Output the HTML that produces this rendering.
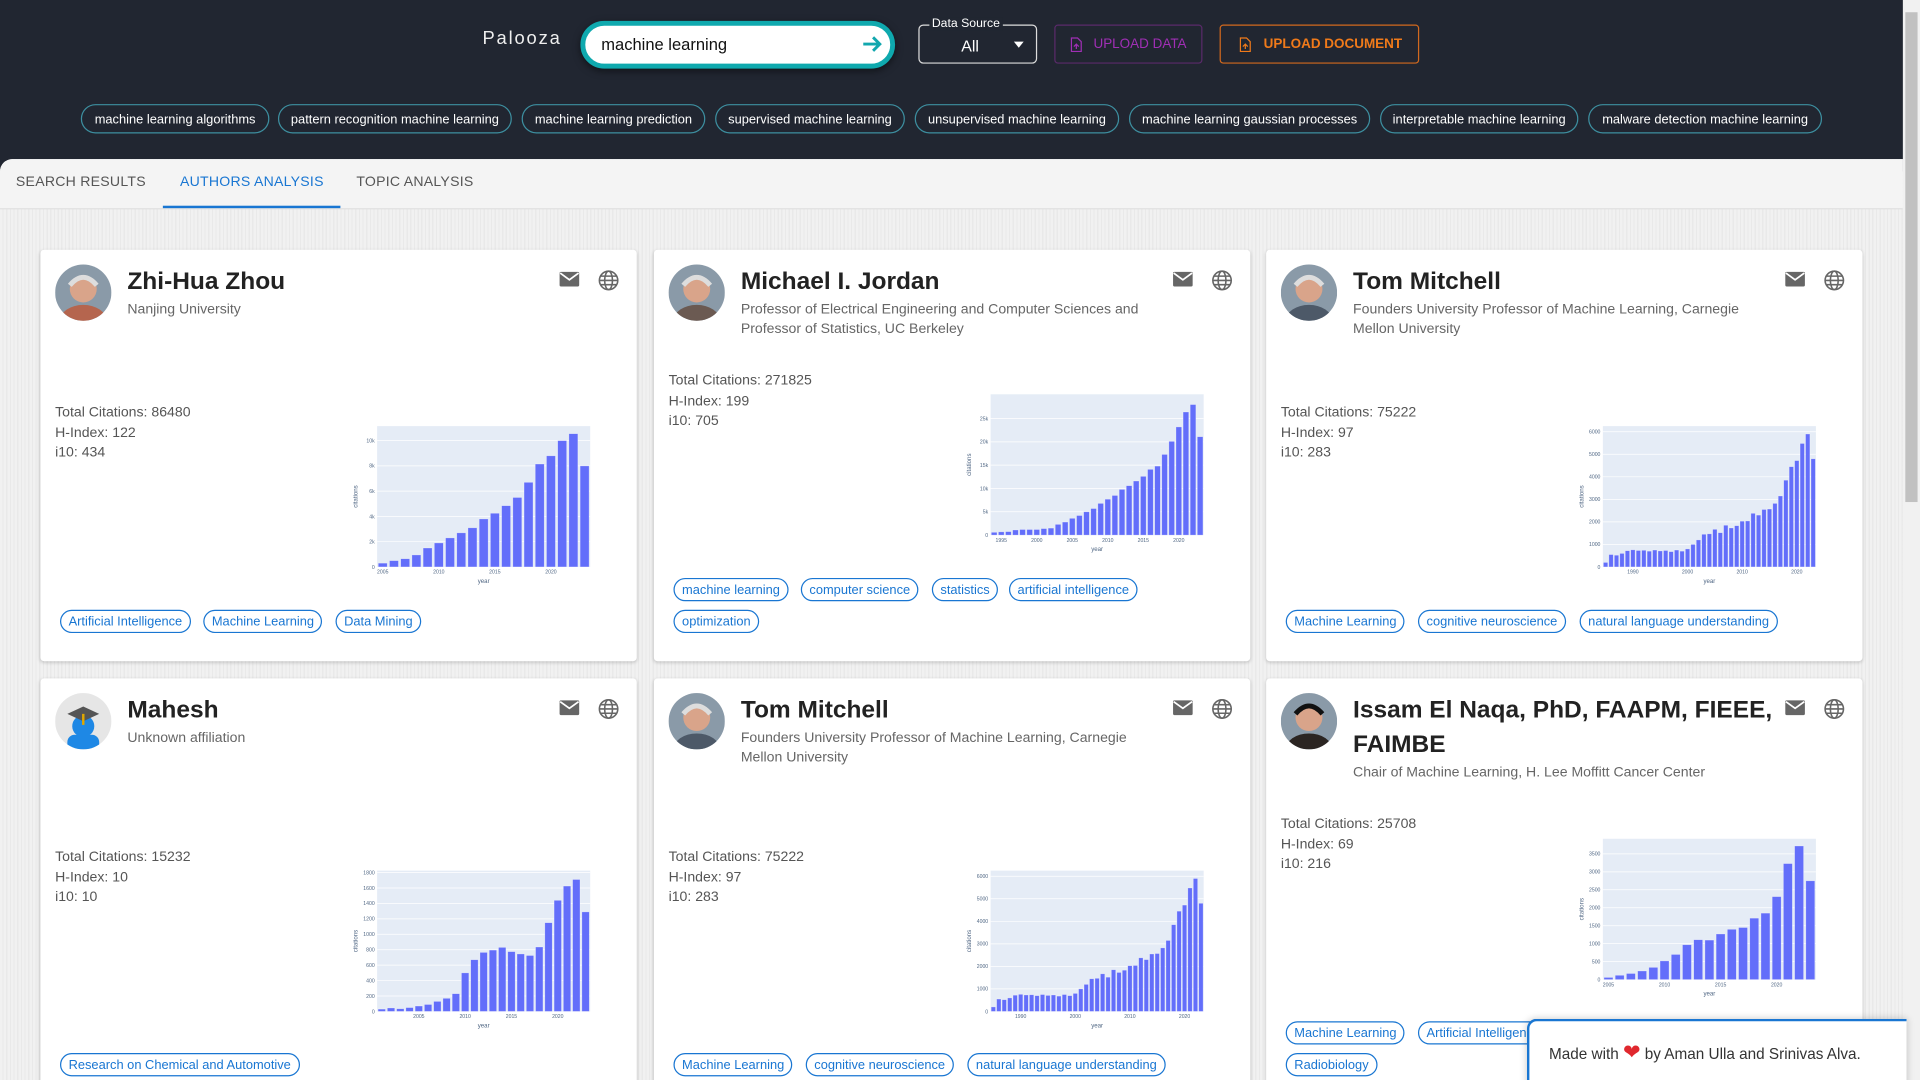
<!DOCTYPE html>
<html><head><meta charset="utf-8">
<style>
html,body{margin:0;padding:0;width:1920px;height:1080px;overflow:hidden;background:#f0f0f0;}
#root{position:absolute;left:0;top:0;width:1568px;height:882px;transform:scale(1.22449);transform-origin:0 0;font-family:"Liberation Sans",Arial,sans-serif;overflow:hidden;}
.abs{position:absolute;}
#header{left:0;top:0;width:1568px;height:140px;background:#212631;}
.chip{position:absolute;top:85px;height:24px;border:1px solid #3d8fa0;border-radius:13px;color:#fff;font-size:10.5px;line-height:24px;text-align:center;box-sizing:border-box;white-space:nowrap;}
#content{left:0;top:130px;width:1554px;height:752px;border-top-left-radius:10px;background:repeating-linear-gradient(90deg,#f1f1f1 0,#f1f1f1 2px,#e9e9e9 2px,#e9e9e9 3px);}
#tabs{left:0;top:130px;width:1554px;height:40px;background:#f4f4f4;border-bottom:1px solid #ddd;border-top-left-radius:10px;}
.tab{position:absolute;top:143px;font-size:11.5px;color:#555;letter-spacing:.2px;}
.card{position:absolute;background:#fff;box-shadow:0 1px 3px rgba(0,0,0,.2);border-radius:3px;}
.avatar{position:absolute;left:12px;top:12px;width:46px;height:46px;border-radius:50%;overflow:hidden;}
.name{position:absolute;left:71px;font-size:20px;font-weight:bold;color:#222;}
.aff{position:absolute;left:71px;font-size:11.5px;color:#666;line-height:16px;}
.stats{position:absolute;left:12px;font-size:11.5px;color:#555;line-height:16.5px;}
.tag{position:absolute;height:19px;border:1px solid #1976d2;color:#1976d2;border-radius:10px;font-size:10.5px;line-height:18px;padding:0 6px;box-sizing:border-box;white-space:nowrap;}
.icon{position:absolute;top:17px;}
</style></head><body>
<div id="root">
<div id="header" class="abs"></div>
<div class="abs" style="left:394px;top:23px;color:#eee;font-size:15px;letter-spacing:1.5px;">Palooza</div>
<div class="abs" style="left:474px;top:17px;width:257px;height:39px;box-sizing:border-box;border:4px solid #0fa9ae;border-radius:20px;background:#fff;box-shadow:0 2px 6px rgba(0,0,0,.5);">
 <span style="position:absolute;left:13px;top:8px;font-size:13.5px;color:#111;">machine learning</span>
 <svg style="position:absolute;right:6px;top:6px" width="18" height="18" viewBox="0 0 18 18"><path d="M2 9H15M10 3.5L15.5 9 10 14.5" stroke="#12a7ae" stroke-width="2.4" fill="none"/></svg>
</div>
<div class="abs" style="left:750px;top:20px;width:97px;height:32px;border:1px solid #ddd;border-radius:4px;box-sizing:border-box;">
 <span style="position:absolute;left:8px;top:-7px;background:#212631;color:#fff;font-size:10px;padding:0 2px;">Data Source</span>
 <span style="position:absolute;left:34px;top:9px;color:#fff;font-size:13px;">All</span>
 <span style="position:absolute;left:77px;top:13px;width:0;height:0;border-left:4px solid transparent;border-right:4px solid transparent;border-top:5px solid #fff;"></span>
</div>
<div class="abs" style="left:861px;top:20px;width:121px;height:32px;border:1px solid #5a2a6a;border-radius:3px;box-sizing:border-box;color:#a02fb5;font-size:11px;line-height:30px;">
 <svg style="position:absolute;left:12px;top:9px" width="10" height="13" viewBox="0 0 10 13"><path d="M1 1H6L9 4V12H1Z" stroke="#a02fb5" fill="none"/><path d="M5 10V6M3 8L5 6 7 8" stroke="#a02fb5" fill="none"/></svg>
 <span style="position:absolute;left:31px;">UPLOAD DATA</span></div>
<div class="abs" style="left:996px;top:20px;width:163px;height:32px;border:1px solid #d2691e;border-radius:3px;box-sizing:border-box;color:#f07a1a;font-size:11px;font-weight:bold;line-height:30px;">
 <svg style="position:absolute;left:15px;top:9px" width="10" height="13" viewBox="0 0 10 13"><path d="M1 1H6L9 4V12H1Z" stroke="#f07a1a" fill="none"/><path d="M5 10V6M3 8L5 6 7 8" stroke="#f07a1a" fill="none"/></svg>
 <span style="position:absolute;left:35px;">UPLOAD DOCUMENT</span></div>

<div class="chip" style="left:66px;width:154px">machine learning algorithms</div>
<div class="chip" style="left:227px;width:191px">pattern recognition machine learning</div>
<div class="chip" style="left:426px;width:150px">machine learning prediction</div>
<div class="chip" style="left:584px;width:155px">supervised machine learning</div>
<div class="chip" style="left:747px;width:167px">unsupervised machine learning</div>
<div class="chip" style="left:922px;width:197px">machine learning gaussian processes</div>
<div class="chip" style="left:1127px;width:162px">interpretable machine learning</div>
<div class="chip" style="left:1297px;width:191px">malware detection machine learning</div>

<div id="content" class="abs"></div>
<div id="tabs" class="abs"></div>
<div class="tab" style="left:13px">SEARCH RESULTS</div>
<div class="tab" style="left:147px;color:#1976d2">AUTHORS ANALYSIS</div>
<div class="abs" style="left:133px;top:168px;width:145px;height:2px;background:#1976d2"></div>
<div class="tab" style="left:291px">TOPIC ANALYSIS</div>

<div id="cards"></div>

<div class="abs" style="left:1554px;top:0;width:14px;height:882px;background:#f1f1f1;"><div style="position:absolute;left:2px;top:10px;width:10px;height:400px;background:#c1c1c1;"></div></div>

<div class="abs" style="left:1247px;top:832px;width:308px;height:60px;background:#fff;border-top:2px solid #1976d2;border-left:2px solid #1976d2;border-top-left-radius:8px;box-shadow:0 0 6px rgba(0,0,0,.2);font-size:12.5px;color:#333;">
 <span style="position:absolute;left:16px;top:16px;">Made with <span style="color:#e0282e;font-size:17px;">&#10084;</span> by Aman Ulla and Srinivas Alva.</span></div>
</div>

<script>
// ---- chart data ----
const zhouYears = [2005,2006,2007,2008,2009,2010,2011,2012,2013,2014,2015,2016,2017,2018,2019,2020,2021,2022,2023];
const zhouCitations = [300,500,650,950,1500,1900,2300,2700,3100,3800,4250,4850,5500,6700,8150,8800,10000,10550,8000];
const zhouTicks = [0,2000,4000,6000,8000,10000];
const zhouTickLabels = ["0","2k","4k","6k","8k","10k"];
const zhouYearTicks = [2005,2010,2015,2020];

const jordanYears = [1994,1995,1996,1997,1998,1999,2000,2001,2002,2003,2004,2005,2006,2007,2008,2009,2010,2011,2012,2013,2014,2015,2016,2017,2018,2019,2020,2021,2022,2023];
const jordanCitations = [600,700,750,1100,1200,1200,1200,1400,1500,2300,2800,3600,4200,5000,5700,6800,7700,8500,9800,10600,11600,12600,14100,14800,17300,20100,23200,26400,28000,21100];
const jordanTicks = [0,5000,10000,15000,20000,25000];
const jordanTickLabels = ["0","5k","10k","15k","20k","25k"];
const jordanYearTicks = [1995,2000,2005,2010,2015,2020];

const mitchellYears = [1985,1986,1987,1988,1989,1990,1991,1992,1993,1994,1995,1996,1997,1998,1999,2000,2001,2002,2003,2004,2005,2006,2007,2008,2009,2010,2011,2012,2013,2014,2015,2016,2017,2018,2019,2020,2021,2022,2023];
const mitchellCitations = [200,550,520,600,720,760,730,740,700,750,710,730,680,750,700,800,1000,1200,1450,1470,1670,1520,1850,1730,1830,2030,2040,2380,2300,2550,2570,2820,3150,3850,4450,4720,5480,5900,4800];
const mitchellTicks = [0,1000,2000,3000,4000,5000,6000];
const mitchellTickLabels = ["0","1000","2000","3000","4000","5000","6000"];
const mitchellYearTicks = [1990,2000,2010,2020];

const maheshYears = [2001,2002,2003,2004,2005,2006,2007,2008,2009,2010,2011,2012,2013,2014,2015,2016,2017,2018,2019,2020,2021,2022,2023];
const maheshCitations = [30,45,35,50,70,90,130,170,230,500,670,765,795,830,775,745,725,835,1150,1440,1625,1710,1290];
const maheshTicks = [0,200,400,600,800,1000,1200,1400,1600,1800];
const maheshTickLabels = ["0","200","400","600","800","1000","1200","1400","1600","1800"];
const maheshYearTicks = [2005,2010,2015,2020];

const naqaYears = [2005,2006,2007,2008,2009,2010,2011,2012,2013,2014,2015,2016,2017,2018,2019,2020,2021,2022,2023];
const naqaCitations = [60,120,170,240,340,520,700,970,1110,1100,1270,1400,1450,1710,1850,2310,3230,3720,2750];
const naqaTicks = [0,500,1000,1500,2000,2500,3000,3500];
const naqaTickLabels = ["0","500","1000","1500","2000","2500","3000","3500"];
const naqaYearTicks = [2005,2010,2015,2020];

const NS = "http://www.w3.org/2000/svg";
function svgEl(tag, attrs){const e=document.createElementNS(NS,tag);for(const k in attrs)e.setAttribute(k,attrs[k]);return e;}

function drawChart(svg, years, vals, ymax, ticks, tickLabels, yearTicks){
  const L=35,T=15,W=174,H=115;
  const x0=years[0]-0.5, x1=years[years.length-1]+0.5;
  const xs=v=>L+(v-x0)/(x1-x0)*W;
  const ys=v=>T+H-v/ymax*H;
  const bg=svgEl("rect",{x:L,y:T,width:W,height:H,fill:"#e5ecf6"});
  
  
  svg.appendChild(bg);
  ticks.forEach((t,i)=>{
    if(t>0){const g=svgEl("line",{x1:L,x2:L+W,y1:ys(t),y2:ys(t),stroke:"#fff","stroke-width":0.6});
      
      
      svg.appendChild(g);}
    const tx=svgEl("text",{x:L-2,y:ys(t)+1.5,"font-size":4.2,fill:"#506784","text-anchor":"end"});
    tx.textContent=tickLabels[i];
    
    
    svg.appendChild(tx);
  });
  const bw=W/years.length*0.8;
  years.forEach((y,i)=>{
    const r=svgEl("rect",{x:xs(y)-bw/2,y:ys(vals[i]),width:bw,height:ys(0)-ys(vals[i]),fill:"#636efa",stroke:"rgba(255,255,255,0.45)","stroke-width":0.5});
    
    
    svg.appendChild(r);
  });
  yearTicks.forEach(y=>{
    const tx=svgEl("text",{x:xs(y),y:T+H+5.5,"font-size":4.2,fill:"#506784","text-anchor":"middle"});
    tx.textContent=y;
    
    
    svg.appendChild(tx);
  });
  const xt=svgEl("text",{x:L+W/2,y:T+H+13,"font-size":5,fill:"#506784","text-anchor":"middle"});
  xt.textContent="year";
  
  
  svg.appendChild(xt);
  const yt=svgEl("text",{x:0,y:0,"font-size":5,fill:"#506784","text-anchor":"middle",transform:`translate(${L-16},${T+H/2}) rotate(-90)`});
  yt.textContent="citations";
  
  
  svg.appendChild(yt);
}

const avatarColors=["#b5654e","#6b5a52","#4d5968","#d8d8d8","#4d5968","#2b2522"];
function avatarSvg(i){
  if(i===3) return '<svg width="46" height="46"><rect width="46" height="46" fill="#e6e6e6"/><circle cx="23" cy="27" r="9" fill="#1e88e5"/><rect x="10" y="34" width="26" height="14" rx="6" fill="#1e88e5"/><path d="M10 17L23 11 36 17 23 23Z" fill="#555"/><rect x="22" y="17" width="2" height="9" fill="#e0a800"/></svg>';
  return `<svg width="46" height="46"><rect width="46" height="46" fill="#8a9aa8"/><circle cx="23" cy="20" r="11" fill="#d9a48a"/><ellipse cx="23" cy="46" rx="19" ry="13" fill="${avatarColors[i]}"/><path d="M12 17Q23 4 34 17" stroke="${i===5?'#111':'#ddd'}" stroke-width="4" fill="none"/></svg>`;
}

const cardsDiv=document.getElementById("cards");
function makeCard(o){
  const c=document.createElement("div");
  c.className="card";
  
  
  c.style.left=o.x+"px";c.style.top=o.y+"px";c.style.width="487px";c.style.height=o.ch+"px";
  let html=`<div class="avatar">${avatarSvg(o.i)}</div>`;
  html+=`<div class="name" style="top:${o.nameTop}px;line-height:28px;width:350px">${o.name}</div>`;
  html+=`<div class="aff" style="top:${o.affTop}px;width:340px">${o.aff}</div>`;
  html+=`<svg class="icon" style="left:423px" width="18" height="14" viewBox="0 0 18 14"><rect x="1" y="1" width="16" height="12" rx="1" fill="#666"/><path d="M1.5 2L9 7.5 16.5 2" stroke="#fff" stroke-width="1.4" fill="none"/></svg>`;
  html+=`<svg class="icon" style="left:455px;top:16px" width="18" height="18" viewBox="0 0 18 18"><g stroke="#666" stroke-width="1.3" fill="none"><circle cx="9" cy="9" r="7.5"/><ellipse cx="9" cy="9" rx="3.2" ry="7.5"/><path d="M1.5 9H16.5M2.5 5.5H15.5M2.5 12.5H15.5"/></g></svg>`;
  html+=`<div class="stats" style="top:${o.statsTop}px">Total Citations: ${o.tc}<br>H-Index: ${o.hidx}<br>i10: ${o.i10}</div>`;
  o.tags.forEach(t=>{html+=`<div class="tag" style="left:${t[1]}px;top:${t[2]}px">${t[0]}</div>`;});
  c.innerHTML=html;
  const svg=svgEl("svg",{width:250,height:150});
  svg.style.position="absolute";svg.style.left="240px";svg.style.top=(o.plotTop-15)+"px";
  
  
  c.appendChild(svg);
  drawChart(svg,o.years,o.vals,o.ymax,o.ticks,o.tl,o.yt);
  cardsDiv.appendChild(c);
}
const mitchellAff="Founders University Professor of Machine Learning, Carnegie Mellon University";
const mitchellTags=[["Machine Learning",16,294],["cognitive neuroscience",124,294],["natural language understanding",256,294]];
makeCard({i:0,x:33,y:204,ch:336,name:"Zhi-Hua Zhou",nameTop:12,affTop:41,aff:"Nanjing University",statsTop:125,tc:86480,hidx:122,i10:434,plotTop:144,
  years:zhouYears,vals:zhouCitations,ymax:11150,ticks:zhouTicks,tl:zhouTickLabels,yt:zhouYearTicks,
  tags:[["Artificial Intelligence",16,294],["Machine Learning",133,294],["Data Mining",241,294]]});
makeCard({i:1,x:534,y:204,ch:336,name:"Michael I. Jordan",nameTop:12,affTop:41,aff:"Professor of Electrical Engineering and Computer Sciences and Professor of Statistics, UC Berkeley",statsTop:99,tc:271825,hidx:199,i10:705,plotTop:118,
  years:jordanYears,vals:jordanCitations,ymax:30200,ticks:jordanTicks,tl:jordanTickLabels,yt:jordanYearTicks,
  tags:[["machine learning",16,268],["computer science",120,268],["statistics",227,268],["artificial intelligence",290,268],["optimization",16,294]]});
makeCard({i:2,x:1034,y:204,ch:336,name:"Tom Mitchell",nameTop:12,affTop:41,aff:mitchellAff,statsTop:125,tc:75222,hidx:97,i10:283,plotTop:144,
  years:mitchellYears,vals:mitchellCitations,ymax:6250,ticks:mitchellTicks,tl:mitchellTickLabels,yt:mitchellYearTicks,tags:mitchellTags});
makeCard({i:3,x:33,y:554,ch:340,name:"Mahesh",nameTop:12,affTop:41,aff:"Unknown affiliation",statsTop:138,tc:15232,hidx:10,i10:10,plotTop:157,
  years:maheshYears,vals:maheshCitations,ymax:1825,ticks:maheshTicks,tl:maheshTickLabels,yt:maheshYearTicks,
  tags:[["Research on Chemical and Automotive",16,306]]});
makeCard({i:4,x:534,y:554,ch:340,name:"Tom Mitchell",nameTop:12,affTop:41,aff:mitchellAff,statsTop:138,tc:75222,hidx:97,i10:283,plotTop:157,
  years:mitchellYears,vals:mitchellCitations,ymax:6250,ticks:mitchellTicks,tl:mitchellTickLabels,yt:mitchellYearTicks,
  tags:[["Machine Learning",16,306],["cognitive neuroscience",124,306],["natural language understanding",256,306]]});
makeCard({i:5,x:1034,y:554,ch:340,name:"Issam El Naqa, PhD, FAAPM, FIEEE, FAIMBE",nameTop:12,affTop:69,aff:"Chair of Machine Learning, H. Lee Moffitt Cancer Center",statsTop:111,tc:25708,hidx:69,i10:216,plotTop:131,
  years:naqaYears,vals:naqaCitations,ymax:3920,ticks:naqaTicks,tl:naqaTickLabels,yt:naqaYearTicks,
  tags:[["Machine Learning",16,280],["Artificial Intelligence",124,280],["Radiobiology",16,306]]});
</script>
</body></html>
